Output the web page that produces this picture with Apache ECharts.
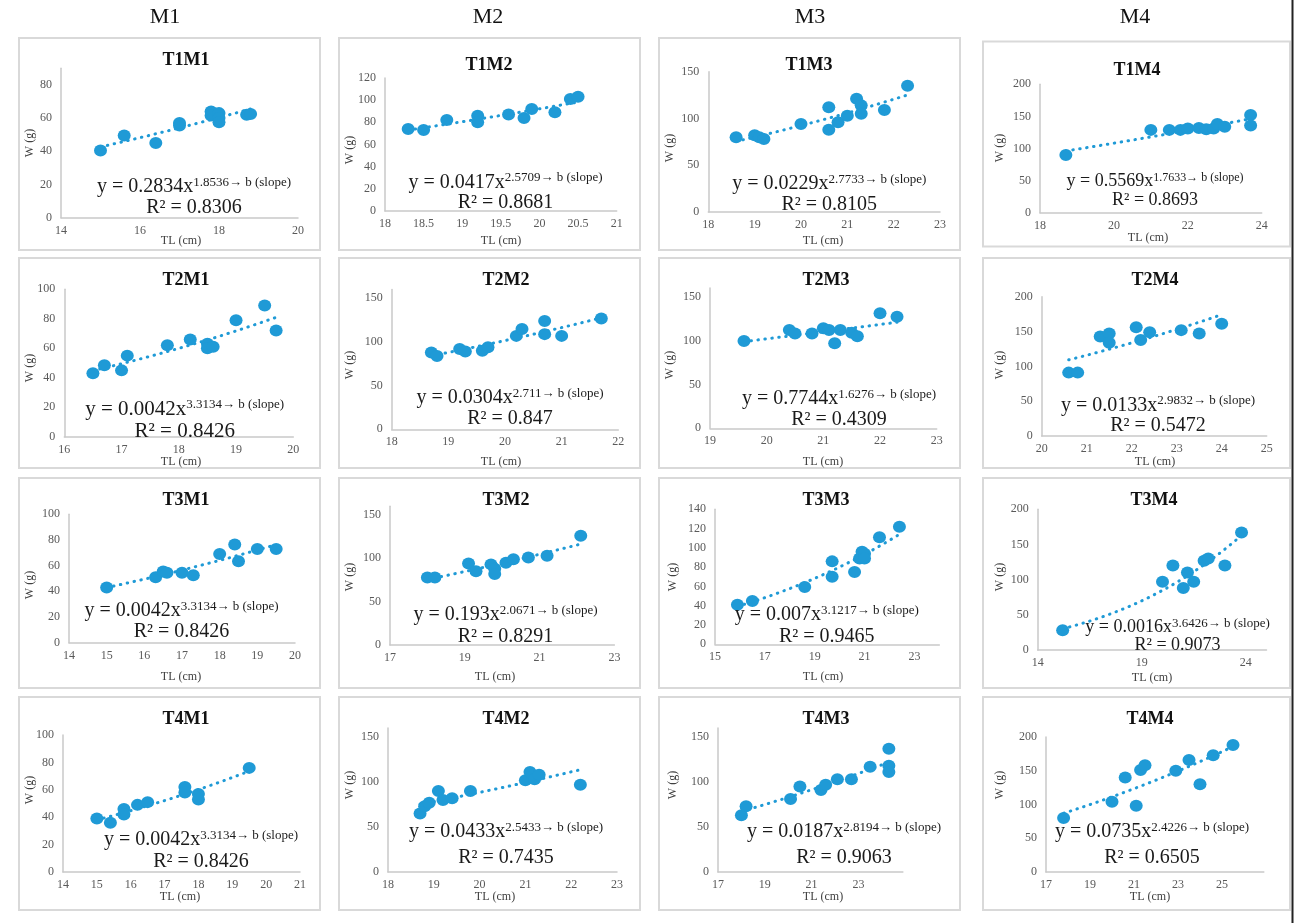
<!DOCTYPE html>
<html>
<head>
<meta charset="utf-8">
<title>Length–weight relationships</title>
<script src="https://cdn.jsdelivr.net/npm/echarts@6/dist/echarts.min.js"></script>
<style>
  html, body { margin: 0; padding: 0; background: #ffffff; }
  #chart { width: 1294px; height: 923px; }
</style>
</head>
<body>
<div id="chart"></div>
<script>
// ---------- data ----------
const columnHeads = ['M1', 'M2', 'M3', 'M4'];
const panelNames = ['T1M1', 'T1M2', 'T1M3', 'T1M4',
                    'T2M1', 'T2M2', 'T2M3', 'T2M4',
                    'T3M1', 'T3M2', 'T3M3', 'T3M4',
                    'T4M1', 'T4M2', 'T4M3', 'T4M4'];

// total length TL (cm) and weight W (g) per panel
const t1m1TL = [15.0, 15.6, 16.4, 17.0, 17.0, 17.8, 17.8, 18.0, 18.0, 18.0, 18.7, 18.8];
const t1m1W  = [40.5, 49.5, 45.0, 55.5, 57.0, 64.0, 61.5, 63.0, 60.0, 57.5, 62.0, 62.5];
const t1m2TL = [18.3, 18.5, 18.8, 19.2, 19.2, 19.6, 19.8, 19.9, 20.2, 20.4, 20.5];
const t1m2W  = [74, 73, 82, 86, 80, 87, 84, 92, 89, 101, 103];
const t1m3TL = [18.6, 19.0, 19.1, 19.2, 20.0, 20.6, 20.6, 20.8, 21.0, 21.2, 21.3, 21.3, 21.8, 22.3];
const t1m3W  = [80, 82, 80, 78, 94, 112, 88, 96, 103, 121, 114, 105, 109, 135];
const t1m4TL = [18.7, 21.0, 21.5, 21.8, 22.0, 22.3, 22.5, 22.7, 22.8, 23.0, 23.7, 23.7];
const t1m4W  = [90, 129, 129, 129, 131, 132, 130, 131, 138, 134, 152, 136];

const t2m1TL = [16.5, 16.7, 17.0, 17.1, 17.8, 18.2, 18.5, 18.5, 18.6, 19.0, 19.5, 19.7];
const t2m1W  = [43, 48.5, 45, 55, 62, 66, 63, 60, 61, 79, 89, 72];
const t2m2TL = [18.7, 18.8, 19.2, 19.3, 19.6, 19.7, 20.2, 20.3, 20.7, 20.7, 21.0, 21.7];
const t2m2W  = [88, 84, 92, 89, 90, 94, 107, 115, 124, 109, 107, 127];
const t2m3TL = [19.6, 20.4, 20.5, 20.8, 21.0, 21.1, 21.2, 21.3, 21.5, 21.6, 22.0, 22.3];
const t2m3W  = [99.5, 112, 108, 108, 114, 112, 97, 112, 109, 105, 131, 127];
const t2m4TL = [20.6, 20.8, 21.3, 21.5, 21.5, 22.1, 22.2, 22.4, 23.1, 23.5, 24.0];
const t2m4W  = [91, 91, 143, 147, 134, 156, 138, 149, 152, 147, 161];

const t3m1TL = [15.0, 16.3, 16.5, 16.6, 17.0, 17.3, 18.0, 18.4, 18.5, 19.0, 19.5];
const t3m1W  = [43, 51, 55.5, 54.5, 54.5, 52.5, 69, 76.5, 63.5, 73, 73];
const t3m2TL = [18.0, 18.2, 19.1, 19.3, 19.7, 19.8, 19.8, 20.1, 20.3, 20.7, 21.2, 22.1];
const t3m2W  = [78, 78, 94, 85, 93, 88, 82, 95, 99, 101, 103, 126];
const t3m3TL = [15.9, 16.5, 18.6, 19.7, 19.7, 20.6, 20.8, 20.9, 21.0, 21.0, 21.6, 22.4];
const t3m3W  = [41, 45, 59.5, 86, 70, 75, 89, 96, 94, 89, 111, 122];
const t3m4TL = [15.2, 20.0, 20.5, 21.0, 21.2, 21.5, 22.0, 22.2, 23.0, 23.8];
const t3m4W  = [28, 97, 120, 88, 110, 97, 127, 130, 120, 167];

const t4m1TL = [15.0, 15.4, 15.8, 15.8, 16.2, 16.5, 17.6, 17.6, 18.0, 18.0, 19.5];
const t4m1W  = [39, 36, 46, 42, 49, 51, 62, 58, 57, 53, 76];
const t4m2TL = [18.7, 18.8, 18.9, 19.1, 19.2, 19.4, 19.8, 21.0, 21.1, 21.2, 21.3, 22.2];
const t4m2W  = [65, 73, 77, 90, 80, 82, 90, 102, 111, 103, 108, 97];
const t4m3TL = [18.0, 18.2, 20.1, 20.5, 21.4, 21.6, 22.1, 22.7, 23.5, 24.3, 24.3, 24.3];
const t4m3W  = [63, 73, 81, 95, 91, 97, 103, 103, 117, 137, 118, 111];
const t4m4TL = [17.8, 20.0, 20.6, 21.1, 21.3, 21.5, 22.9, 23.5, 24.0, 24.6, 25.5];
const t4m4W  = [80, 104, 140, 98, 151, 158, 150, 166, 130, 173, 188];

// printed regression text: W = a·TL^b and R²
const coefA = ['0.2834', '0.0417', '0.0229', '0.5569',
               '0.0042', '0.0304', '0.7744', '0.0133',
               '0.0042', '0.193',  '0.007',  '0.0016',
               '0.0042', '0.0433', '0.0187', '0.0735'];
const expB  = ['1.8536', '2.5709', '2.7733', '1.7633',
               '3.3134', '2.711',  '1.6276', '2.9832',
               '3.3134', '2.0671', '3.1217', '3.6426',
               '3.3134', '2.5433', '2.8194', '2.4226'];
const rSq   = ['0.8306', '0.8681', '0.8105', '0.8693',
               '0.8426', '0.847',  '0.4309', '0.5472',
               '0.8426', '0.8291', '0.9465', '0.9073',
               '0.8426', '0.7435', '0.9063', '0.6505'];

// axis scales: [min, max, step]
const tlScale = [[14, 20, 2], [18, 21, 0.5], [18, 23, 1], [18, 24, 2],
                 [16, 20, 1], [18, 22, 1],   [19, 23, 1], [20, 25, 1],
                 [14, 20, 1], [17, 23, 2],   [15, 24, 2], [14, 25, 5],
                 [14, 21, 1], [18, 23, 1],   [17, 24.9, 2], [17, 26.9, 2]];
const wScale  = [[0, 90, 20],  [0, 120, 20], [0, 150, 50], [0, 200, 50],
                 [0, 100, 20], [0, 160, 50], [0, 160, 50], [0, 200, 50],
                 [0, 100, 20], [0, 160, 50], [0, 140, 20], [0, 200, 50],
                 [0, 100, 20], [0, 160, 50], [0, 160, 50], [0, 200, 50]];

const tlSets = [t1m1TL, t1m2TL, t1m3TL, t1m4TL, t2m1TL, t2m2TL, t2m3TL, t2m4TL,
                t3m1TL, t3m2TL, t3m3TL, t3m4TL, t4m1TL, t4m2TL, t4m3TL, t4m4TL];
const wSets  = [t1m1W, t1m2W, t1m3W, t1m4W, t2m1W, t2m2W, t2m3W, t2m4W,
                t3m1W, t3m2W, t3m3W, t3m4W, t4m1W, t4m2W, t4m3W, t4m4W];

// ---------- layout (pixels) ----------
// panel border: x, y, w, h
const frameBoxes = [
  [19, 38, 301, 212], [339, 38, 301, 212], [659, 38, 301, 212], [983, 41.5, 307, 205],
  [19, 258, 301, 210], [339, 258, 301, 210], [659, 258, 301, 210], [983, 258, 307, 210],
  [19, 478, 301, 210], [339, 478, 301, 210], [659, 478, 301, 210], [983, 478, 307, 210],
  [19, 697, 301, 213], [339, 697, 301, 213], [659, 697, 301, 213], [983, 697, 307, 213]
];
// plotting area: left, top, right, bottom
const plotBoxes = [
  [61, 68.3, 298, 217.7], [385, 78, 616.7, 211], [708.3, 71.7, 940, 212], [1040, 84.3, 1261.7, 212.7],
  [64.3, 289.3, 293.3, 436.7], [391.7, 289.6, 618.3, 429.3], [710, 287.9, 936.7, 428.3], [1041.7, 296.7, 1266.7, 436],
  [69, 514.3, 295, 642.7], [390, 506.3, 614.4, 645], [715, 509.3, 939.3, 644.3], [1037.7, 509.3, 1266.5, 650],
  [63, 735, 300, 872], [388, 728, 617, 872], [718, 728, 902.9, 872], [1046, 737, 1263.8, 872]
];
const titleSpots = [
  [186, 60], [489, 65], [809, 65], [1137, 70],
  [186, 280], [506, 280], [826, 280], [1155, 280],
  [186, 500], [506, 500], [826, 500], [1154, 500],
  [186, 719], [506, 719], [826, 719], [1150, 719]
];
const yNameSpots = [
  [30, 143], [350, 150], [670, 148], [1000, 148],
  [30, 368], [350, 365], [670, 365], [1000, 365],
  [30, 585], [350, 577], [673, 577], [1000, 577],
  [30, 790], [350, 785], [673, 785], [1000, 785]
];
const xNameSpots = [
  [181, 241], [501, 241], [823, 241], [1148, 238],
  [181, 462], [501, 462], [823, 462], [1155, 462],
  [181, 677], [495, 677], [823, 677], [1152, 678],
  [180, 897], [495, 897], [823, 897], [1150, 897]
];
// equation block: centre x, line-1 y, line-2 y, main size, exponent size
const eqSpots = [
  [194, 186.7, 207.5, 20, 13], [505.5, 182.3, 202.5, 20, 13], [829.3, 184, 205, 20, 13], [1155, 181.5, 200, 18, 12],
  [184.7, 409.3, 431.7, 21, 13], [510, 398, 418.7, 20, 13], [839, 399, 419.7, 20, 13], [1158, 405.3, 425.7, 20, 13],
  [181.5, 610.7, 632, 20, 13], [505.5, 614.7, 636.3, 20, 13], [826.7, 614.7, 636.3, 20, 13], [1177.5, 627.3, 645.5, 18, 13],
  [201, 840, 862, 20, 13], [506, 832, 858, 20, 13], [844, 832, 858, 20, 13], [1152, 832, 858, 20, 13]
];
const headSpots = [[165, 17], [488, 17], [810, 17], [1135, 17]];

// ---------- helpers ----------
const SERIF = '"Liberation Serif", "Times New Roman", "DejaVu Serif", serif';
const BLUE = '#1f9ad6';
const AXIS_GREY = '#c9c9c9';

// least-squares power fit (log–log), as a spreadsheet power trendline does
function powerFit(xs, ys) {
  const n = xs.length;
  let sx = 0, sy = 0, sxx = 0, sxy = 0;
  for (let i = 0; i < n; i++) {
    const lx = Math.log(xs[i]), ly = Math.log(ys[i]);
    sx += lx; sy += ly; sxx += lx * lx; sxy += lx * ly;
  }
  const b = (n * sxy - sx * sy) / (n * sxx - sx * sx);
  const a = Math.exp((sy - b * sx) / n);
  return { a, b };
}

function stepLabel(min, step) {
  return function (v) {
    const k = (v - min) / step;
    if (Math.abs(k - Math.round(k)) > 1e-6) return '';
    return String(Math.round(v * 100) / 100);
  };
}

// ---------- build option ----------
const grids = [], xAxes = [], yAxes = [], series = [], graphics = [];

panelNames.forEach((name, i) => {
  const [pl, pt, pr, pb] = plotBoxes[i];
  grids.push({ left: pl, top: pt, width: pr - pl, height: pb - pt, containLabel: false });

  const [xmin, xmax, xstep] = tlScale[i];
  const [ymin, ymax, ystep] = wScale[i];
  const labelStyle = { fontFamily: SERIF, fontSize: 12, color: '#595959' };

  xAxes.push({
    gridIndex: i, type: 'value', min: xmin, max: xmax, interval: xstep,
    axisLine: { show: true, onZero: false, lineStyle: { color: AXIS_GREY, width: 1.5 } },
    axisTick: { show: false }, splitLine: { show: false },
    axisLabel: Object.assign({ margin: 7, formatter: stepLabel(xmin, xstep), showMaxLabel: true, showMinLabel: true }, labelStyle)
  });
  yAxes.push({
    gridIndex: i, type: 'value', min: ymin, max: ymax, interval: ystep,
    axisLine: { show: true, onZero: false, lineStyle: { color: AXIS_GREY, width: 1.5 } },
    axisTick: { show: false }, splitLine: { show: false },
    axisLabel: Object.assign({ margin: 9, formatter: stepLabel(ymin, ystep), showMaxLabel: true, showMinLabel: true }, labelStyle)
  });

  const xs = tlSets[i], ys = wSets[i];
  const pts = xs.map((x, k) => [x, ys[k]]);

  // dotted power trendline across the measured length range
  const fit = powerFit(xs, ys);
  const lo = Math.min.apply(null, xs), hi = Math.max.apply(null, xs);
  const trend = [];
  const steps = 40;
  for (let k = 0; k <= steps; k++) {
    const x = lo + (hi - lo) * k / steps;
    trend.push([x, fit.a * Math.pow(x, fit.b)]);
  }

  series.push({
    type: 'line', xAxisIndex: i, yAxisIndex: i, data: trend,
    showSymbol: false, symbol: 'none', silent: true, z: 2,
    lineStyle: { color: BLUE, width: 3, type: [0.5, 6.5], cap: 'round' }
  });
  series.push({
    type: 'scatter', xAxisIndex: i, yAxisIndex: i, data: pts,
    symbol: 'circle', symbolSize: [13, 12], silent: true, z: 3,
    itemStyle: { color: BLUE, opacity: 1 }
  });

  // panel border
  const [fx, fy, fw, fh] = frameBoxes[i];
  graphics.push({
    type: 'rect', shape: { x: fx, y: fy, width: fw, height: fh }, z: 0,
    style: { fill: 'none', stroke: '#d9d9d9', lineWidth: 2 }, silent: true
  });
  // panel title
  graphics.push({
    type: 'text', x: titleSpots[i][0], y: titleSpots[i][1], silent: true,
    style: { text: name, fontFamily: SERIF, fontSize: 18, fontWeight: 'bold', fill: '#111111',
             align: 'center', verticalAlign: 'middle' }
  });
  // axis names
  graphics.push({
    type: 'text', x: yNameSpots[i][0], y: yNameSpots[i][1], rotation: Math.PI / 2, silent: true,
    style: { text: 'W (g)', fontFamily: SERIF, fontSize: 12, fill: '#404040',
             align: 'center', verticalAlign: 'middle' }
  });
  graphics.push({
    type: 'text', x: xNameSpots[i][0], y: xNameSpots[i][1], silent: true,
    style: { text: 'TL (cm)', fontFamily: SERIF, fontSize: 12, fill: '#404040',
             align: 'center', verticalAlign: 'middle' }
  });
  // regression equation and R²
  const [ex, ey1, ey2, fm, fs] = eqSpots[i];
  graphics.push({
    type: 'text', x: ex, y: ey1, silent: true, z: 10,
    style: {
      text: '{m|y = ' + coefA[i] + 'x}{s|' + expB[i] + '\u2192 b (slope)}',
      align: 'center', verticalAlign: 'middle',
      rich: {
        m: { fontFamily: SERIF, fontSize: fm, lineHeight: fm + 2, fill: '#1a1a1a', align: 'center' },
        s: { fontFamily: SERIF, fontSize: fs, lineHeight: fs + 1, fill: '#1a1a1a', verticalAlign: 'top', align: 'center' }
      }
    }
  });
  graphics.push({
    type: 'text', x: ex, y: ey2, silent: true, z: 10,
    style: { text: 'R\u00b2 = ' + rSq[i], fontFamily: SERIF, fontSize: fm, fill: '#1a1a1a',
             align: 'center', verticalAlign: 'middle' }
  });
});

// column headings
columnHeads.forEach((h, c) => {
  graphics.push({
    type: 'text', x: headSpots[c][0], y: headSpots[c][1], silent: true,
    style: { text: h, fontFamily: SERIF, fontSize: 22, fill: '#111111', align: 'center', verticalAlign: 'middle' }
  });
});
// right page edge rule
graphics.push({
  type: 'line', shape: { x1: 1292.5, y1: 0, x2: 1292.5, y2: 923 }, silent: true,
  style: { stroke: '#222222', lineWidth: 2 }
});

const chart = echarts.init(document.getElementById('chart'), null, { renderer: 'canvas' });
chart.setOption({
  animation: false,
  backgroundColor: '#ffffff',
  grid: grids,
  xAxis: xAxes,
  yAxis: yAxes,
  series: series,
  graphic: { elements: graphics }
});
</script>
</body>
</html>
